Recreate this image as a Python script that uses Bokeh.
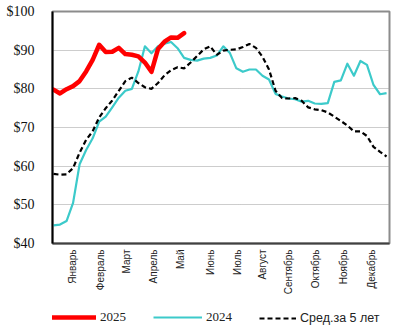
import math
from bokeh.plotting import figure
from bokeh.layouts import column
from bokeh.models import (Legend, LegendItem, FixedTicker, NumeralTickFormatter,
                          Range1d)
from bokeh.embed import file_html
from bokeh.resources import INLINE

# ---- data (weekly index) ----
weeks_2025 = list(range(1, 22))
price_2025 = [79.8, 78.8, 79.9, 80.7, 82.0, 84.5, 87.5, 91.4, 89.5, 89.6, 90.6,
              89.0, 88.8, 88.4, 86.8, 84.4, 90.3, 92.2, 93.3, 93.2, 94.4]

weeks_all = list(range(1, 53))
price_2024 = [44.7, 44.9, 45.8, 50.5, 60.5, 64.2, 67.2, 71.5, 72.8, 75.2, 77.7,
              79.5, 80.0, 84.5, 91.0, 89.2, 91.0, 91.7, 92.1, 90.5, 88.0, 87.5,
              87.3, 87.8, 88.0, 88.6, 91.0, 89.3, 85.3, 84.4, 85.0, 85.0, 83.4,
              82.4, 78.7, 78.0, 77.5, 77.3, 76.7, 76.9, 76.2, 76.1, 76.3, 81.8,
              82.2, 86.5, 83.4, 87.2, 86.2, 81.0, 78.6, 78.9]
avg_5y = [58.0, 57.8, 57.9, 59.5, 63.5, 66.8, 69.0, 72.6, 75.0, 77.0, 79.5,
          82.0, 82.9, 81.5, 80.4, 80.0, 81.5, 83.5, 84.8, 85.6, 85.3, 86.8,
          88.5, 90.2, 91.0, 88.8, 89.9, 90.1, 90.2, 90.8, 91.6, 90.6, 88.3,
          85.0, 79.5, 77.6, 77.5, 77.6, 76.9, 75.2, 74.7, 74.5, 73.9, 72.8,
          71.7, 70.5, 69.0, 69.0, 67.8, 65.0, 63.7, 62.5]

month_labels = ["Январь", "Февраль", "Март", "Апрель", "Май", "Июнь", "Июль",
                "Август", "Сентябрь", "Октябрь", "Ноябрь", "Декабрь"]
month_ticks = [3.91, 8.20, 12.18, 16.31, 20.45, 25.04, 29.18, 33.01, 36.99,
               41.12, 45.41, 49.70]
y_ticks = [40, 50, 60, 70, 80, 90, 100]

RED = "#FF0000"
CYAN = "#3CCACA"
STYLE_25 = dict(line_color=RED, line_width=4.5, line_join="round", line_cap="round")
STYLE_24 = dict(line_color=CYAN, line_width=2.2, line_join="round")
STYLE_AVG = dict(line_color="black", line_width=2.2, line_dash="5 3")

p = figure(width=401, height=297, output_backend="svg", toolbar_location=None,
           x_range=Range1d(0.85, 52.45), y_range=Range1d(40, 100),
           min_border_left=52, min_border_right=12, min_border_top=11,
           min_border_bottom=54)
p.background_fill_color = "white"
p.border_fill_color = "white"
p.outline_line_color = "#8c8c8c"
p.outline_line_width = 2

p.xgrid.grid_line_color = None
p.ygrid.grid_line_color = "#9a9a9a"
p.ygrid.grid_line_dash = "1 1"
p.ygrid.grid_line_width = 1
p.ygrid.ticker = FixedTicker(ticks=y_ticks)

# y axis
p.yaxis.ticker = FixedTicker(ticks=y_ticks)
p.yaxis.formatter = NumeralTickFormatter(format="$0")
p.yaxis.major_label_text_font = "Liberation Serif"
p.yaxis.major_label_text_font_size = "14px"
p.yaxis.major_label_text_color = "#111111"
p.yaxis.major_tick_line_color = None
p.yaxis.minor_tick_line_color = None
p.yaxis.axis_line_color = "black"
p.yaxis.axis_line_width = 2
p.yaxis.major_label_standoff = 12

# x axis
p.xaxis.ticker = FixedTicker(ticks=month_ticks)
p.xaxis.major_label_overrides = {t: l for t, l in zip(month_ticks, month_labels)}
p.xaxis.major_label_orientation = math.pi / 2
p.xaxis.major_label_text_align = "center"
p.xaxis.major_label_text_font = "Liberation Sans"
p.xaxis.major_label_text_font_size = "10px"
p.xaxis.major_label_text_color = "#222222"
p.xaxis.major_label_standoff = 0
p.xaxis.major_tick_line_color = None
p.xaxis.minor_tick_line_color = None
p.xaxis.axis_line_color = "#404040"
p.xaxis.axis_line_width = 2

p.line(weeks_all, price_2024, **STYLE_24)
p.line(weeks_all, avg_5y, **STYLE_AVG)
p.line(weeks_2025, price_2025, **STYLE_25)

# ---- legend strip below the chart (same series, kept out of view) ----
q = figure(width=401, height=32, output_backend="svg", toolbar_location=None,
           x_axis_location=None, y_axis_location=None,
           x_range=Range1d(-20, -10), y_range=Range1d(-20, -10),
           min_border_left=0, min_border_right=0, min_border_top=0,
           min_border_bottom=0)
q.grid.grid_line_color = None
q.outline_line_color = None
q.background_fill_color = "white"
q.border_fill_color = "white"
k25 = q.line(weeks_2025, price_2025, **STYLE_25)
k24 = q.line(weeks_all, price_2024, **STYLE_24)
kavg = q.line(weeks_all, avg_5y, **STYLE_AVG)


def make_legend(label, renderer, x, glyph_w, font, size):
    lg = Legend(items=[LegendItem(label=label, renderers=[renderer])],
                location=(x, 4), orientation="horizontal",
                padding=0, margin=0, spacing=0,
                glyph_width=glyph_w, glyph_height=12, label_height=12,
                label_width=10, label_standoff=4,
                border_line_alpha=0, background_fill_alpha=0,
                label_text_font=font, label_text_font_size=size,
                label_text_color="#222222")
    q.add_layout(lg, "center")


make_legend("2025", k25, 0, 44, "Liberation Serif", "13px")
make_legend("2024", k24, 101, 49, "Liberation Serif", "13px")
make_legend("Сред.за 5 лет", kavg, 207, 37, "Liberation Sans", "12.5px")

layout = column(p, q, spacing=0)
open("out.html", "w").write(file_html(layout, INLINE))
